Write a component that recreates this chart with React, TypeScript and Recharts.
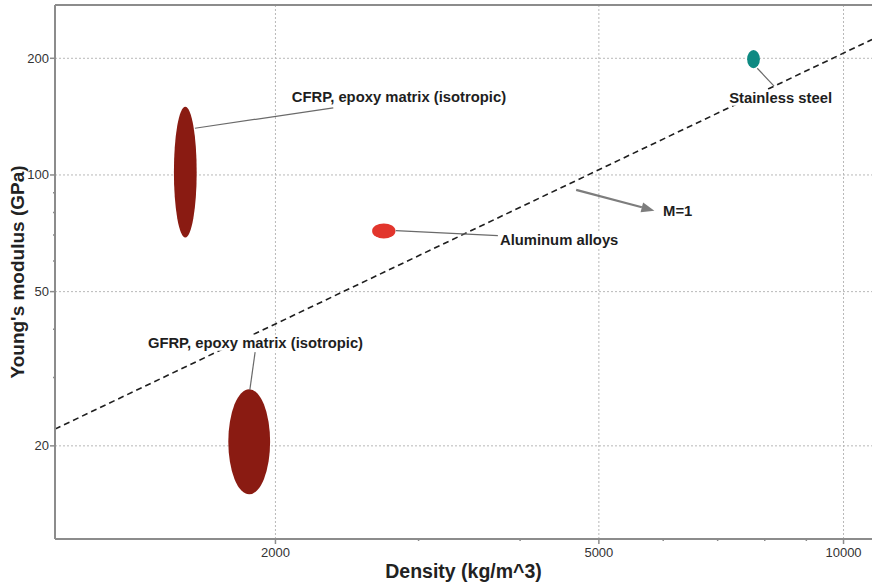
import {
  ComposedChart,
  CartesianGrid,
  XAxis,
  YAxis,
  Line,
  ReferenceArea,
  ReferenceLine,
  ReferenceDot,
} from 'recharts'

const FONT = '"Liberation Sans", Arial, Helvetica, sans-serif'

// axes (log-log)
const densityDomain = [1071, 10840]
const modulusDomain = [11.5, 274.5]
const densityTicks = [2000, 3000, 4000, 5000, 6000, 7000, 8000, 9000, 10000]
const densityLabels = [2000, 5000, 10000]
const modulusTicks = [20, 30, 40, 50, 60, 70, 80, 90, 100, 200]
const modulusLabels = [20, 50, 100, 200]

// material bubbles: density (kg/m^3) and Young's modulus (GPa) ranges
const materials = [
  'CFRP, epoxy matrix (isotropic)',
  'GFRP, epoxy matrix (isotropic)',
  'Aluminum alloys',
  'Stainless steel',
]
const densityLow = [1500, 1750, 2630, 7610]
const densityHigh = [1600, 1970, 2810, 7890]
const modulusLow = [69, 15, 68.6, 188.5]
const modulusHigh = [150, 28, 75, 210]
const materialColors = ['#8a1b12', '#8a1b12', '#e2352c', '#0e8a82']

// leader lines + label anchors, in data units [density, modulus]
const leaderFrom = [[1592, 132], [1860, 27.9], [2812, 71.8], [7832, 188.5]]
const leaderTo = [[2356, 149], [1888, 34.9], [3756, 69.7], [8214, 169.6]]
const labelAt = [[2838, 159], [1890, 36.9], [3778, 68.0], [8367, 158.2]]
const labelAnchor = ['middle', 'middle', 'start', 'middle']

// guide line E/rho = const (M=1)
const guideDensity = [1071, 10840]
const guideModulus = [22.1, 223.6]
const guideArrowFrom = [4688, 91.5]
const guideArrowTo = [5852, 80.9]
const guideLabel = 'M=1'
const guideLabelAt = [5998, 80.9]

const guideData = guideDensity.map((rho, i) => ({ rho, E: guideModulus[i] }))

const AXIS = '#8c8c8c'
const GRID = '#b8b8b8'
const LABEL_SIZE = 14.8

function DensityTick({ x, y, payload }: any) {
  const major = densityLabels.includes(payload.value)
  return (
    <g>
      <line x1={x} y1={y} x2={x} y2={y + (major ? 5 : 2)} stroke={AXIS} strokeWidth={1.5} />
      {major && (
        <text x={x} y={y + 13} textAnchor="middle" dominantBaseline="central" fontFamily={FONT} fontSize={13} fill="#333">
          {payload.value}
        </text>
      )}
    </g>
  )
}

function ModulusTick({ x, y, payload }: any) {
  const major = modulusLabels.includes(payload.value)
  return (
    <g>
      <line x1={x} y1={y} x2={x - (major ? 5 : 2)} y2={y} stroke={AXIS} strokeWidth={1.5} />
      {major && (
        <text x={x - 6} y={y} textAnchor="end" dominantBaseline="central" fontFamily={FONT} fontSize={13} fill="#333">
          {payload.value}
        </text>
      )}
    </g>
  )
}

// text label with a white box behind it (hides the guide line, like the original)
function boxedLabel(text: string, anchor: string) {
  return (p: any) => {
    const w = text.length * 0.47 * LABEL_SIZE + 4
    const left = anchor === 'start' ? p.cx - 2 : p.cx - w / 2
    return (
      <g>
        <rect x={left} y={p.cy - 8} width={w} height={16} fill="#fff" />
        <text
          x={p.cx}
          y={p.cy}
          textAnchor={anchor}
          dominantBaseline="central"
          fontFamily={FONT}
          fontSize={LABEL_SIZE}
          fontWeight="bold"
          fill="#1e1e1e"
        >
          {text}
        </text>
      </g>
    )
  }
}

function Arrow(p: any) {
  const dx = p.x2 - p.x1
  const dy = p.y2 - p.y1
  const len = Math.sqrt(dx * dx + dy * dy)
  const ux = dx / len
  const uy = dy / len
  const head = 13
  const half = 5
  const bx = p.x2 - ux * head
  const by = p.y2 - uy * head
  return (
    <g>
      <line x1={p.x1} y1={p.y1} x2={bx} y2={by} stroke="#7d7d7d" strokeWidth={2.2} />
      <polygon
        points={`${p.x2},${p.y2} ${bx - uy * half},${by + ux * half} ${bx + uy * half},${by - ux * half}`}
        fill="#7d7d7d"
      />
    </g>
  )
}

export default function App() {
  return (
    <div style={{ position: 'absolute', left: 0, top: 0, background: '#fff' }}>
      <ComposedChart width={872} height={584} data={guideData} margin={{ top: 5, right: 0, bottom: 0, left: 0 }}>
        <CartesianGrid
          stroke={GRID}
          strokeDasharray="2 2"
          horizontalValues={modulusLabels}
          verticalValues={densityLabels}
        />
        <XAxis
          dataKey="rho"
          type="number"
          scale="log"
          domain={densityDomain}
          allowDataOverflow
          ticks={densityTicks}
          interval={0}
          height={45}
          tickSize={0}
          tickMargin={0}
          tickLine={false}
          axisLine={{ stroke: AXIS, strokeWidth: 2 }}
          tick={<DensityTick />}
          label={{
            content: ({ viewBox }: any) => (
              <text
                x={viewBox.x + viewBox.width / 2}
                y={viewBox.y + 32}
                textAnchor="middle"
                dominantBaseline="central"
                fontFamily={FONT}
                fontSize={19.5}
                fontWeight="bold"
                fill="#222"
              >
                Density (kg/m^3)
              </text>
            ),
          }}
        />
        <YAxis
          dataKey="E"
          type="number"
          scale="log"
          domain={modulusDomain}
          allowDataOverflow
          ticks={modulusTicks}
          interval={0}
          width={55}
          tickSize={0}
          tickMargin={0}
          tickLine={false}
          axisLine={{ stroke: AXIS, strokeWidth: 2 }}
          tick={<ModulusTick />}
          label={{
            content: ({ viewBox }: any) => {
              const cx = 17
              const cy = viewBox.y + viewBox.height / 2
              return (
                <text
                  x={cx}
                  y={cy}
                  transform={`rotate(-90, ${cx}, ${cy})`}
                  textAnchor="middle"
                  dominantBaseline="central"
                  fontFamily={FONT}
                  fontSize={19}
                  fontWeight="bold"
                  fill="#222"
                >
                  Young's modulus (GPa)
                </text>
              )
            },
          }}
        />

        <ReferenceLine y={modulusDomain[1]} stroke={AXIS} strokeWidth={2} />

        <Line
          dataKey="E"
          stroke="#1e1e1e"
          strokeWidth={1.6}
          strokeDasharray="6 4"
          dot={false}
          activeDot={false}
          isAnimationActive={false}
        />

        {materials.map((m, i) => (
          <ReferenceArea
            key={`area${m}`}
            x1={densityLow[i]}
            x2={densityHigh[i]}
            y1={modulusLow[i]}
            y2={modulusHigh[i]}
            shape={(p: any) => (
              <ellipse
                cx={p.x + p.width / 2}
                cy={p.y + p.height / 2}
                rx={Math.abs(p.width) / 2}
                ry={Math.abs(p.height) / 2}
                fill={materialColors[i]}
              />
            )}
          />
        ))}

        {materials.map((m, i) => (
          <ReferenceLine
            key={`lead${m}`}
            segment={[
              { x: leaderFrom[i][0], y: leaderFrom[i][1] },
              { x: leaderTo[i][0], y: leaderTo[i][1] },
            ]}
            stroke="#6a6a6a"
            strokeWidth={1.2}
          />
        ))}
        {materials.map((m, i) => (
          <ReferenceDot
            key={`lab${m}`}
            x={labelAt[i][0]}
            y={labelAt[i][1]}
            shape={boxedLabel(m, labelAnchor[i])}
          />
        ))}

        <ReferenceLine
          segment={[
            { x: guideArrowFrom[0], y: guideArrowFrom[1] },
            { x: guideArrowTo[0], y: guideArrowTo[1] },
          ]}
          shape={<Arrow />}
        />
        <ReferenceDot x={guideLabelAt[0]} y={guideLabelAt[1]} shape={boxedLabel(guideLabel, 'start')} />
      </ComposedChart>
    </div>
  )
}
